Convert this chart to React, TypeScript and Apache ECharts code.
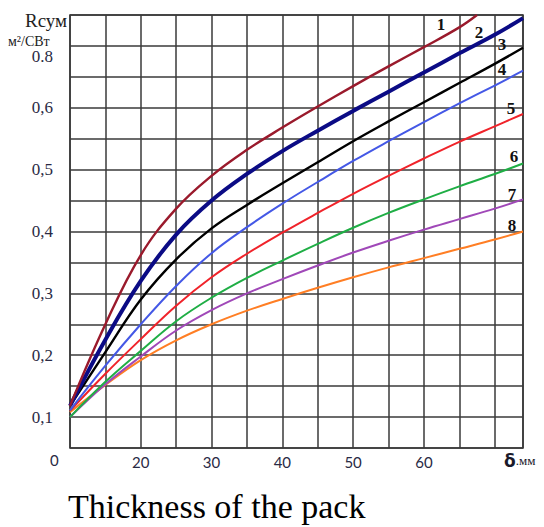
import React, { useEffect, useRef } from "react";
import * as echarts from "echarts";

// thickness δ, mm
const thickness = [10, 15, 20, 25, 30, 35, 40, 45, 50, 55, 60, 65, 70, 74];
const thicknessCurve1 = [10, 15, 20, 25, 30, 35, 40, 45, 50, 55, 60, 65, 67.5];

// Rсум, м²/СВт
const curve1 = [0.118, 0.25, 0.362, 0.437, 0.49, 0.532, 0.568, 0.602, 0.635, 0.667, 0.698, 0.73, 0.75];
const curve2 = [0.118, 0.225, 0.32, 0.395, 0.45, 0.493, 0.53, 0.563, 0.595, 0.626, 0.657, 0.688, 0.718, 0.745];
const curve3 = [0.118, 0.205, 0.29, 0.355, 0.405, 0.443, 0.478, 0.512, 0.546, 0.578, 0.609, 0.64, 0.671, 0.697];
const curve4 = [0.111, 0.183, 0.25, 0.312, 0.365, 0.407, 0.445, 0.48, 0.514, 0.546, 0.577, 0.607, 0.636, 0.66];
const curve5 = [0.11, 0.17, 0.226, 0.28, 0.326, 0.364, 0.398, 0.43, 0.461, 0.49, 0.518, 0.545, 0.57, 0.59];
const curve6 = [0.1, 0.157, 0.207, 0.255, 0.293, 0.325, 0.353, 0.38, 0.406, 0.43, 0.452, 0.473, 0.493, 0.51];
const curve7 = [0.1, 0.153, 0.198, 0.24, 0.273, 0.3, 0.323, 0.345, 0.366, 0.385, 0.403, 0.42, 0.437, 0.452];
const curve8 = [0.108, 0.152, 0.192, 0.224, 0.25, 0.272, 0.291, 0.309, 0.326, 0.342, 0.357, 0.372, 0.387, 0.4];

const curveNames = ["1", "2", "3", "4", "5", "6", "7", "8"];
const xTickLabels: Record<number, string> = { 20: "20", 30: "30", 40: "40", 50: "50", 60: "60" };
const yTickLabels: Record<number, string> = { 2: "0,1", 4: "0,2", 6: "0,3", 8: "0,4", 10: "0,5", 12: "0,6", 14: "0.8" };

const colors = ["#9a1a2c", "#0b0b85", "#000000", "#4458e6", "#f0232a", "#1fae45", "#a048b8", "#ff7e24"];
const widths = [2.4, 4, 2.4, 2, 2, 2, 2, 2];
const labelOffsets: [number, number][] = [
  [-36, 9], [-44, 14], [-21, -3], [-21, -1], [-12, -5], [-9, -7], [-11, -5], [-11, -6],
];

export default function App() {
  const ref = useRef<HTMLDivElement>(null);
  useEffect(() => {
    if (!ref.current) return;
    const chart = echarts.init(ref.current, undefined, { renderer: "svg" });
    const allCurves = [curve1, curve2, curve3, curve4, curve5, curve6, curve7, curve8];
    const series = allCurves.map((vals, i) => {
      const xs = i === 0 ? thicknessCurve1 : thickness;
      return {
        type: "line",
        name: curveNames[i],
        data: vals.map((v, j) => [xs[j], v]),
        smooth: 0.4,
        showSymbol: false,
        symbol: "none",
        lineStyle: { color: colors[i], width: widths[i] },
        itemStyle: { color: colors[i] },
        z: 10 - i,
        endLabel: {
          show: true,
          formatter: curveNames[i],
          align: "center",
          verticalAlign: "middle",
          distance: 0,
          offset: labelOffsets[i],
          fontFamily: "Liberation Serif",
          fontWeight: "bold",
          fontSize: 17,
          color: "#111",
        },
      };
    });
    chart.setOption({
      animation: false,
      grid: {
        left: 70,
        right: 21,
        top: 15,
        bottom: 79,
        show: true,
        borderColor: "#3a3a3a",
        borderWidth: 1.6,
      },
      xAxis: {
        type: "value",
        min: 10,
        max: 74,
        interval: 5,
        axisLine: { show: false },
        axisTick: { show: false },
        splitLine: { show: true, lineStyle: { color: "#3a3a3a", width: 1.5 } },
        axisLabel: {
          margin: 6,
          color: "#2a2a44",
          fontFamily: "Lato",
          fontSize: 15,
          showMinLabel: true,
          showMaxLabel: true,
          formatter: (v: number) => xTickLabels[Math.round(v)] ?? "",
        },
      },
      yAxis: {
        type: "value",
        min: 0.05,
        max: 0.75,
        interval: 0.05,
        axisLine: { show: false },
        axisTick: { show: false },
        splitLine: { show: true, lineStyle: { color: "#3a3a3a", width: 1.5 } },
        axisLabel: {
          margin: 17,
          color: "#2a2a44",
          fontFamily: "Liberation Serif",
          fontSize: 17,
          formatter: (v: number) => {
            const n = Math.round(v * 20);
            const t = yTickLabels[n];
            if (!t) return "";
            return n === 14 ? "{d|" + t + "}" : t;
          },
          rich: {
            d: {
              fontFamily: "Liberation Serif",
              fontSize: 17,
              color: "#2a2a44",
              padding: [22, 0, 0, 0],
            },
          },
        },
      },
      graphic: [
        {
          type: "text",
          left: 25,
          top: 11,
          style: { text: "Rсум", font: "19px 'Liberation Serif'", fill: "#222" },
        },
        {
          type: "text",
          left: 8,
          top: 34,
          style: { text: "м²/СВт", font: "14px 'Liberation Serif'", fill: "#222" },
        },
        {
          type: "text",
          left: 50,
          top: 452,
          style: { text: "0", font: "15px Lato", fill: "#2a2a44" },
        },
        {
          type: "text",
          left: 504,
          top: 452,
          style: {
            text: "{a|δ}{b|.мм}",
            rich: {
              a: { fontFamily: "DejaVu Sans", fontWeight: "bold", fontSize: 17, fill: "#1a1a2a" },
              b: { fontFamily: "Liberation Serif", fontSize: 13, fill: "#1a1a2a" },
            },
          },
        },
        {
          type: "text",
          left: 68,
          top: 489,
          style: { text: "Thickness of the pack", font: "34px 'Liberation Serif'", fill: "#000" },
        },
      ],
      series,
    });
    return () => chart.dispose();
  }, []);
  return (
    <div
      ref={ref}
      style={{ position: "fixed", left: 0, top: 0, width: 544, height: 527, background: "#fff" }}
    />
  );
}
